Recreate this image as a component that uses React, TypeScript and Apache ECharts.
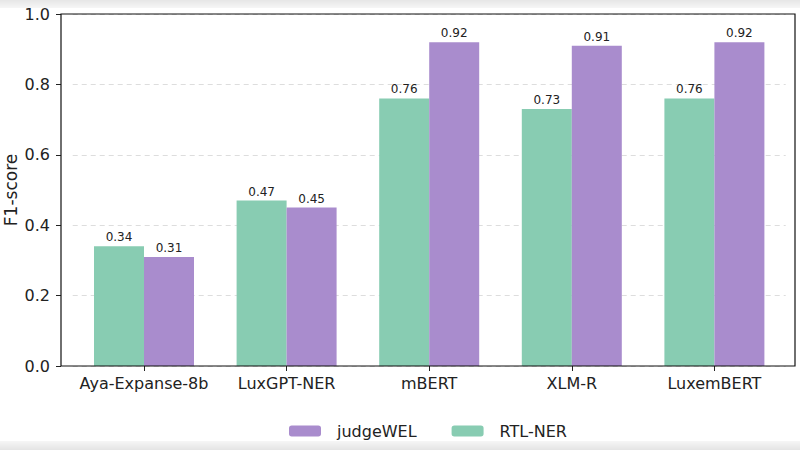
import React, { useEffect, useRef } from "react";
import * as echarts from "echarts";

const categories = ["Aya-Expanse-8b", "LuxGPT-NER", "mBERT", "XLM-R", "LuxemBERT"];
const rtlNer = [0.34, 0.47, 0.76, 0.73, 0.76];
const judgeWel = [0.31, 0.45, 0.92, 0.91, 0.92];
const yTicks = [0, 0.2, 0.4, 0.6, 0.8, 1.0];

const FONT = "DejaVu Sans";

export default function App() {
  const ref = useRef<HTMLDivElement>(null);
  useEffect(() => {
    if (!ref.current) return;
    const chart = echarts.init(ref.current, undefined, { renderer: "svg" });
    const labelStyle = {
      show: true,
      position: "top" as const,
      distance: 3,
      fontFamily: FONT,
      fontSize: 12,
      color: "#222",
      formatter: (p: any) => p.value.toFixed(2),
    };
    chart.setOption({
      animation: false,
      backgroundColor: "#fff",
      textStyle: { fontFamily: FONT },
      grid: {
        left: 72.7,
        right: 800 - 785.7,
        top: 14,
        bottom: 84,
        containLabel: false,
        outerBoundsMode: "none",
      },
      xAxis: {
        type: "category",
        data: categories,
        boundaryGap: true,
        axisLine: { show: false },
        axisTick: { show: true, alignWithLabel: true, length: 5, lineStyle: { color: "#222" } },
        axisLabel: { interval: 0, fontFamily: FONT, fontSize: 16, color: "#222", margin: 9 },
      },
      yAxis: {
        type: "value",
        min: 0,
        max: 1,
        interval: 0.2,
        offset: 11.7,
        name: "F1-score",
        nameLocation: "middle",
        nameGap: 42,
        nameMoveOverlap: false,
        nameTextStyle: { fontFamily: FONT, fontSize: 17, color: "#222" },
        axisLine: { show: false },
        axisTick: { show: true, length: 5, lineStyle: { color: "#222" } },
        axisLabel: {
          fontFamily: FONT,
          fontSize: 16,
          color: "#222",
          margin: 11,
          formatter: (v: number) => (yTicks.some((t) => Math.abs(t - v) < 1e-9) ? v.toFixed(1) : ""),
        },
        splitLine: { show: true, lineStyle: { color: "#ddd", type: [5, 4], width: 1 } },
      },
      legend: {
        bottom: 6,
        left: 284,
        itemWidth: 32,
        itemHeight: 11,
        itemGap: 35,
        textStyle: { fontFamily: FONT, fontSize: 16, color: "#222", padding: [0, 0, 0, 11] },
        data: ["judgeWEL", "RTL-NER"],
      },
      series: [
        {
          name: "RTL-NER",
          type: "bar",
          data: rtlNer,
          barWidth: 50,
          barGap: "0%",
          itemStyle: { color: "#88ccb2" },
          label: labelStyle,
        },
        {
          name: "judgeWEL",
          type: "bar",
          data: judgeWel,
          barWidth: 50,
          barGap: "0%",
          itemStyle: { color: "#a98ccd" },
          label: labelStyle,
        },
      ],
      graphic: [
        {
          type: "rect",
          shape: { x: 61, y: 14, width: 734, height: 352 },
          style: { fill: "none", stroke: "#111", lineWidth: 1.2 },
          z: 100,
        },
        {
          type: "rect",
          shape: { x: 0, y: 0, width: 800, height: 8 },
          style: {
            fill: new echarts.graphic.LinearGradient(0, 0, 0, 1, [
              { offset: 0, color: "#e6e6e6" },
              { offset: 1, color: "#f6f6f6" },
            ]),
          },
          z: 100,
        },
        {
          type: "rect",
          shape: { x: 0, y: 441, width: 800, height: 9 },
          style: {
            fill: new echarts.graphic.LinearGradient(0, 0, 0, 1, [
              { offset: 0, color: "#f6f6f6" },
              { offset: 1, color: "#e4e4e4" },
            ]),
          },
          z: 100,
        },
      ],
    });
    return () => chart.dispose();
  }, []);
  return <div ref={ref} style={{ width: 800, height: 450, position: "fixed", left: 0, top: 0 }} />;
}
